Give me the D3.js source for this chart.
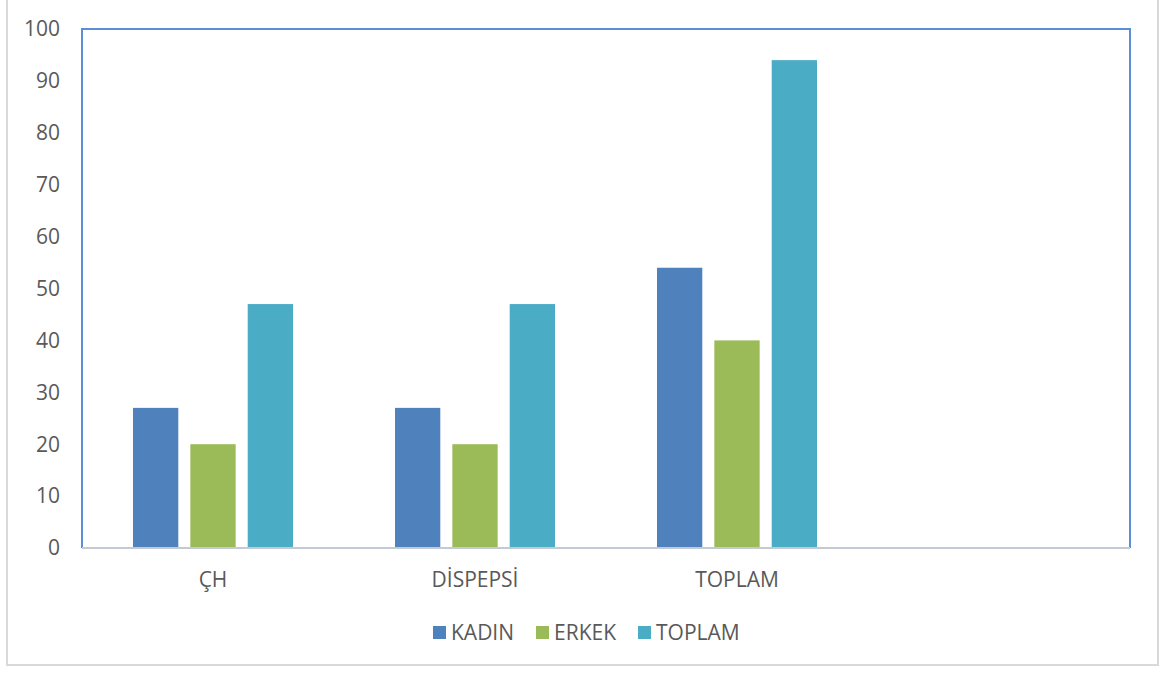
<!DOCTYPE html>
<html>
<head>
<meta charset="utf-8">
<script src="https://cdn.jsdelivr.net/npm/d3@7"></script>
<style>
  body { margin: 0; background: #fff; }
  text { font-family: "Open Sans", "Liberation Sans", sans-serif; fill: #595959; }
</style>
</head>
<body>
<svg width="1171" height="673"></svg>
<script>
// data
var categories = ["ÇH", "DİSPEPSİ", "TOPLAM"];
var slots = ["ÇH", "DİSPEPSİ", "TOPLAM", "_empty"]; // 4th band is empty in the original
var series = ["KADIN", "ERKEK", "TOPLAM"];
var kadin = [27, 27, 54];
var erkek = [20, 20, 40];
var toplam = [47, 47, 94];
var yTicks = [0, 10, 20, 30, 40, 50, 60, 70, 80, 90, 100];
var colors = ["#4f81bd", "#9bbb59", "#4bacc6"];

var svg = d3.select("svg"),
    margin = {top: 29, right: 41, bottom: 125, left: 82},
    width = +svg.attr("width") - margin.left - margin.right,
    height = +svg.attr("height") - margin.top - margin.bottom;

// outer frame
svg.append("rect")
  .attr("x", 7).attr("y", -5)
  .attr("width", 1151).attr("height", 670)
  .attr("fill", "none")
  .attr("stroke", "#d9d9d9")
  .attr("stroke-width", 2);

var x0 = d3.scaleBand().domain(slots).range([0, width]);
var x1 = d3.scaleBand().domain(series)
  .range([51, x0.bandwidth() - 51])
  .paddingInner(0.21);
var y = d3.scaleLinear().domain([0, 100]).range([height, 0]);

var g = svg.append("g")
  .attr("transform", "translate(" + margin.left + "," + margin.top + ")");

var rows = categories.map(function(c, i) {
  return {cat: c, vals: [kadin[i], erkek[i], toplam[i]]};
});

var groups = g.selectAll(".grp")
  .data(rows)
  .enter().append("g")
  .attr("class", "grp")
  .attr("transform", function(d) { return "translate(" + x0(d.cat) + ",0)"; });

groups.selectAll("rect")
  .data(function(d) { return d.vals.map(function(v, j) { return {s: series[j], v: v, j: j}; }); })
  .enter().append("rect")
  .attr("x", function(d) { return x1(d.s); })
  .attr("y", function(d) { return y(d.v); })
  .attr("width", x1.bandwidth())
  .attr("height", function(d) { return height - y(d.v); })
  .style("fill", function(d) { return colors[d.j]; });

// plot border (blue on left/top/right)
g.append("path")
  .attr("d", "M0," + height + "V0H" + width + "V" + height)
  .attr("fill", "none")
  .attr("stroke", "#5a8fd8")
  .attr("stroke-width", 2);

// x axis line
g.append("line")
  .attr("x1", 0).attr("x2", width)
  .attr("y1", height).attr("y2", height)
  .attr("stroke", "#c3cad4")
  .attr("stroke-width", 2);

// y tick labels
g.selectAll(".ylab")
  .data(yTicks)
  .enter().append("text")
  .attr("class", "ylab")
  .attr("x", -22)
  .attr("y", function(d) { return y(d); })
  .attr("dy", "0.35em")
  .attr("text-anchor", "end")
  .style("font-size", "21px")
  .text(function(d) { return d; });

// category labels
g.selectAll(".xlab")
  .data(categories)
  .enter().append("text")
  .attr("class", "xlab")
  .attr("x", function(d) { return x0(d) + x0.bandwidth() / 2; })
  .attr("y", height + 32)
  .attr("dy", "0.35em")
  .attr("text-anchor", "middle")
  .style("font-size", "21px")
  .text(function(d) { return d; });

// legend
var legendX = [433, 536, 638];
var legend = svg.selectAll(".leg")
  .data(series)
  .enter().append("g")
  .attr("class", "leg")
  .attr("transform", function(d, i) { return "translate(" + legendX[i] + ",626)"; });

legend.append("rect")
  .attr("width", 13).attr("height", 13)
  .style("fill", function(d, i) { return colors[i]; });

legend.append("text")
  .attr("x", 18)
  .attr("y", 7)
  .attr("dy", "0.35em")
  .style("font-size", "21px")
  .text(function(d) { return d; });
</script>
</body>
</html>
